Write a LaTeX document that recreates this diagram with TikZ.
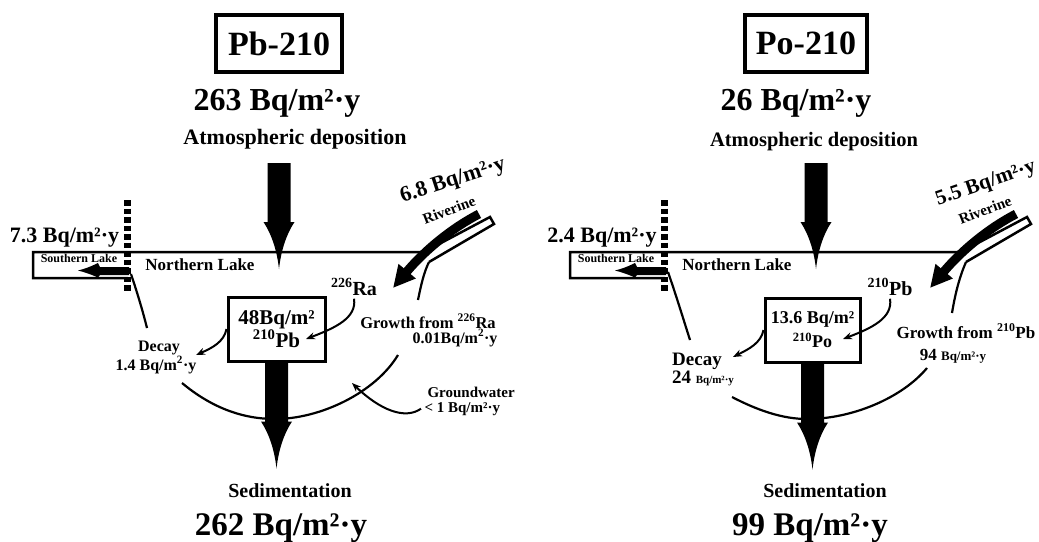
\documentclass[tikz,border=0pt]{standalone}
\usepackage{fontspec}
\setmainfont{Liberation Serif}
\usetikzlibrary{arrows.meta}

\newcommand\bsize[1]{\fontsize{#1}{#1}\selectfont\bfseries}

\tikzset{
	bigarrow/.pic={
			\fill (-11.5,0) -- (11.5,0) -- (11.5,59) -- (15.5,59)
			.. controls (7,72) and (2,88) .. (0,106)
			.. controls (-2,88) and (-7,72) .. (-15.5,59) -- (-11.5,59) -- cycle;
		}
}

% lake surface, southern lake and river channel (same in both panels)
\newcommand\lakeparts{%
	\draw[shore] (128,278) -- (33,278) -- (33,252) -- (424,252) -- (490,217) -- (494,224) -- (429,262);
	\draw[sill] (127,200) -- (127,293);
	\fill (129,267) -- (100,267) -- (98,263) .. controls (90,267) and (84,269) .. (78,270.5)
	.. controls (84,272) and (90,274) .. (98,277.5) -- (100,275) -- (129,275) -- cycle;
	\draw[river] (479,214) .. controls (452,228) and (425,250) .. (393,288);
	\pic at (279,163) {bigarrow};
}

\begin{document}
\begin{tikzpicture}[
		x=1pt, y=-1pt,
		shore/.style={line width=2.5pt},
		sill/.style={line width=7pt, dash pattern=on 5.5pt off 3pt},
		basin/.style={line width=2.2pt},
		river/.style={line width=9pt, -{Triangle[length=22pt, width=21pt]}},
		flow/.style={line width=2pt, -{Stealth[length=9pt, width=7pt]}},
		title/.style={
				draw,
				line width=3.5pt,
				minimum width=126pt,
				minimum height=57pt,
				font=\bsize{34}
			},
		quant/.style={
				draw,
				line width=3pt,
				align=center,
				minimum width=97pt,
				minimum height=64pt,
				inner sep=2pt
			}
	]
	\useasboundingbox (0,0) rectangle (1039,541);

	% Pb-210
	\begin{scope}[name prefix=L-]
		\lakeparts
		\draw[basin] (131,274) .. controls (138,295) and (143,312) .. (147,328)
		(182,383) .. controls (212,408) and (243,419) .. (275,419)
		.. controls (320,419) and (375,393) .. (398,355)
		(418,300) .. controls (421,285) and (424,272) .. (429,262);

		\node[title] (title) at (279,43.5) {Pb-210};
		\node[anchor=base, font=\bsize{32}] (atmval) at (277,110) {263 Bq/m²·y};
		\node[anchor=base, font=\bsize{22}] (atm) at (295,144) {Atmospheric deposition};
		\node[anchor=base, font=\bsize{22}] (outval) at (64.5,242) {7.3 Bq/m²·y};
		\node[anchor=base, font=\bsize{12}] (south) at (79,262) {Southern Lake};
		\node[anchor=base, font=\bsize{17}] (north) at (200,270) {Northern Lake};
		\node[rotate=18, font=\bsize{22}] (rivval) at (453,181) {6.8 Bq/m²·y};
		\node[rotate=21, font=\bsize{15}] (riv) at (449,210) {Riverine};
		\node[anchor=base, font=\bsize{20}] (ra) at (354,295) {\textsuperscript{226}Ra};
		\node[quant, font=\fontsize{21}{23}\selectfont\bfseries] (box) at (276.5,329) {48Bq/m²\\\textsuperscript{210}Pb};
		\coordinate (boxin) at (306,339);
		\draw[flow] (ra.south) .. controls (357,318) and (335,328) .. (boxin);

		\node[anchor=base, font=\bsize{16}] (decay) at (159,351) {Decay};
		\node[anchor=base, font=\bsize{16}] (decayval) at (156,370) {1.4 Bq/m\textsuperscript{2}·y};
		\coordinate (decayend) at (196,355);
		\draw[flow] (box.west) .. controls (224,342) and (212,348) .. (decayend);

		\node[anchor=base, font=\bsize{16.5}] (growth) at (428,328) {Growth from \textsuperscript{226}Ra};
		\node[anchor=base east, font=\bsize{16}] (growthval) at (501,343) {0.01Bq/m\textsuperscript{2}·y};
		\node[anchor=base west, font=\bsize{15}] (gw) at (424,397) {Groundwater};
		\node[anchor=base west, font=\bsize{15}] (gwval) at (421,412) {< 1 Bq/m²·y};
		\coordinate (gwend) at (352,383);
		\draw[flow] (gwval.west) .. controls (405,420) and (380,410) .. (gwend);

		\pic at (box.south) {bigarrow};
		\node[anchor=base, font=\bsize{20}] (sed) at (290,497) {Sedimentation};
		\node[anchor=base, font=\bsize{33}] (sedval) at (281,535) {262 Bq/m²·y};
	\end{scope}

	% Po-210
	\begin{scope}[xshift=537pt, name prefix=R-]
		\lakeparts
		\draw[basin] (131,272) .. controls (139,295) and (146,318) .. (153,340)
		(195,397) .. controls (220,410) and (245,419) .. (270,419)
		.. controls (315,419) and (365,398) .. (390,368)
		(415,313) .. controls (418,295) and (422,278) .. (429,262);

		\node[title, minimum width=122pt] (title) at (269,43.5) {Po-210};
		\node[anchor=base, font=\bsize{32}] (atmval) at (259,110) {26 Bq/m²·y};
		\node[anchor=base, font=\bsize{20.5}] (atm) at (277,146) {Atmospheric deposition};
		\node[anchor=base, font=\bsize{22}] (outval) at (65,242) {2.4 Bq/m²·y};
		\node[anchor=base, font=\bsize{12}] (south) at (79,262) {Southern Lake};
		\node[anchor=base, font=\bsize{17}] (north) at (200,270) {Northern Lake};
		\node[rotate=19, font=\bsize{21}] (rivval) at (449,184) {5.5 Bq/m²·y};
		\node[rotate=21, font=\bsize{15}] (riv) at (448,210) {Riverine};
		\node[anchor=base, font=\bsize{20}] (ra) at (353,295) {\textsuperscript{210}Pb};
		\node[quant, minimum width=95pt, font=\fontsize{18}{24}\selectfont\bfseries] (box) at (275.5,330) {13.6 Bq/m²\\\textsuperscript{210}Po};
		\coordinate (boxin) at (306,339);
		\draw[flow] (ra.south) .. controls (356,318) and (335,328) .. (boxin);

		\node[anchor=base, font=\bsize{19}] (decay) at (160,365) {Decay};
		\node[anchor=base, font=\bsize{19}] (decayval) at (166,383) {24 {\bsize{11}Bq/m²·y}};
		\coordinate (decayend) at (196,357);
		\draw[flow] (box.west) .. controls (224,343) and (212,349) .. (decayend);

		\node[anchor=base, font=\bsize{17}] (growth) at (429,338) {Growth from \textsuperscript{210}Pb};
		\node[anchor=base, font=\bsize{17}] (growthval) at (416,360) {94 {\bsize{13}Bq/m²·y}};

		\pic at (box.south) {bigarrow};
		\node[anchor=base, font=\bsize{20}] (sed) at (288,497) {Sedimentation};
		\node[anchor=base, font=\bsize{33}] (sedval) at (273,535) {99 Bq/m²·y};
	\end{scope}
\end{tikzpicture}
\end{document}
